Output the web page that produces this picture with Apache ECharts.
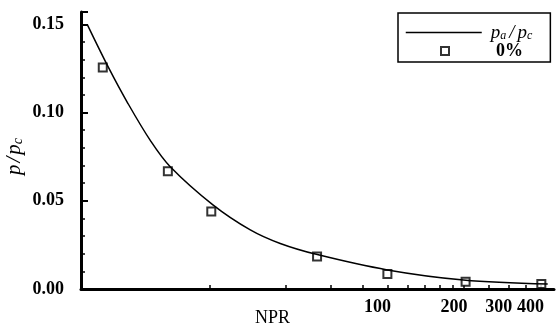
<!DOCTYPE html>
<html>
<head>
<meta charset="utf-8">
<script src="https://cdn.jsdelivr.net/npm/echarts@6/dist/echarts.min.js"></script>
<style>html,body{margin:0;padding:0;background:#fff}#c{width:556px;height:329px}</style>
</head>
<body>
<div id="c"></div>
<script>
// curve p_a/p_c vs NPR
var curveNPR = [6.6, 8.0, 9.5, 11.7, 14.0, 20.6, 28.9, 37.9, 53.0, 100, 199, 427];
var curveP   = [0.150, 0.1256, 0.1057, 0.0841, 0.0693, 0.0477, 0.0335, 0.0258, 0.0195, 0.0108, 0.0051, 0.0028];
// measured points 0%
var pointNPR = [7.6, 13.7, 20.3, 52.9, 100, 203, 403];
var pointP   = [0.1256, 0.0667, 0.0439, 0.0184, 0.0085, 0.0041, 0.0028];
// axis ticks and labels
var xTickValues = [20, 40, 60, 80, 100, 120, 140, 160, 180, 200, 250, 300, 350, 400];
var xLabelValues = [100, 200, 300, 400];
var yLabelValues = [0, 0.05, 0.10, 0.15];

var serif = "'Liberation Serif','Times New Roman',serif";
function zip(a, b) { return a.map(function (v, i) { return [v, b[i]]; }); }

var chart = echarts.init(document.getElementById('c'));
chart.setOption({
  backgroundColor: '#fff',
  animation: false,
  grid: { left: 81, right: 2, top: 12, bottom: 40, containLabel: false, outerBoundsMode: 'none' },
  legend: [{
    data: ['pa/pc'],
    left: 398, top: 13,
    padding: [10, 18, 20, 7],
    itemWidth: 76, itemHeight: 14, itemGap: 0,
    borderColor: '#000', borderWidth: 1.5,
    itemStyle: { opacity: 0 },
    lineStyle: { color: '#000', width: 1.5 },
    formatter: function () { return '{i|p}{s|a}{sl|/}{i|p}{s|c}'; },
    textStyle: {
      fontFamily: serif, fontSize: 19, fontStyle: 'italic', color: '#000', lineHeight: 14,
      padding: [0, 0, 0, 4],
      rich: {
        i: { fontFamily: serif, fontSize: 19, fontStyle: 'italic', color: '#000' },
        s: { fontFamily: serif, fontSize: 12, fontStyle: 'italic', color: '#000', padding: [7, 0, 0, 0] },
        sl: { fontFamily: serif, fontSize: 19, fontStyle: 'italic', color: '#000', padding: [0, 3, 0, 3] }
      }
    }
  }, {
    data: ['0%'],
    left: 440, top: 42,
    padding: 0,
    itemWidth: 8, itemHeight: 8,
    icon: 'rect',
    itemStyle: { color: '#fff', borderColor: '#000', borderWidth: 2 },
    textStyle: { fontFamily: serif, fontSize: 18, fontWeight: 'bold', color: '#000', lineHeight: 17, padding: [0, 0, 0, 42] }
  }],
  xAxis: {
    type: 'log', logBase: 10, min: 6.24, max: 452,
    name: 'NPR', nameLocation: 'middle', nameGap: 20, nameMoveOverlap: false,
    nameTextStyle: { fontFamily: serif, fontSize: 18, color: '#000', padding: [0, 90, 0, 0] },
    axisLine: { lineStyle: { color: '#000', width: 3 } },
    axisTick: { show: true, inside: true, length: 4, customValues: xTickValues, lineStyle: { color: '#000', width: 1.5 } },
    axisLabel: {
      customValues: xLabelValues, margin: 9,
      formatter: function (v) { return '{t|' + Math.round(v) + '}'; },
      rich: { t: { fontFamily: serif, fontSize: 18, fontWeight: 'bold', color: '#000', padding: [0, 20, 0, 0] } }
    },
    splitLine: { show: false }, minorTick: { show: false }, minorSplitLine: { show: false }
  },
  yAxis: {
    type: 'value', min: 0, max: 0.157, interval: 0.05,
    name: '{i|p}{sl|/}{i|p}{s|c}', nameLocation: 'middle', nameRotate: 90, nameGap: 56, nameMoveOverlap: false,
    nameTextStyle: {
      padding: [0, 12, 0, 0],
      rich: {
        i: { fontFamily: serif, fontSize: 21, fontStyle: 'italic', color: '#000' },
        sl: { fontFamily: serif, fontSize: 21, fontStyle: 'italic', color: '#000', padding: [0, 2, 0, 2] },
        s: { fontFamily: serif, fontSize: 14, fontStyle: 'italic', color: '#000', padding: [8, 0, 0, 0] }
      }
    },
    axisLine: { show: true, lineStyle: { color: '#000', width: 3 } },
    axisTick: { show: true, inside: true, length: 7, lineStyle: { color: '#000', width: 2 } },
    minorTick: { show: true, splitNumber: 5, length: 4, lineStyle: { color: '#000', width: 1.5 } },
    axisLabel: {
      customValues: yLabelValues, margin: 17,
      fontFamily: serif, fontSize: 18, fontWeight: 'bold', color: '#000',
      formatter: function (v) { return v.toFixed(2); }
    },
    splitLine: { show: false }
  },
  series: [{
    name: 'pa/pc', type: 'line', data: zip(curveNPR, curveP),
    smooth: 0.35, symbol: 'none',
    itemStyle: { color: '#000' },
    lineStyle: { color: '#000', width: 1.5 }
  }, {
    name: '0%', type: 'scatter', data: zip(pointNPR, pointP),
    symbol: 'rect', symbolSize: 8,
    itemStyle: { color: '#fff', borderColor: '#000', borderWidth: 2 }
  }]
});
</script>
</body>
</html>
